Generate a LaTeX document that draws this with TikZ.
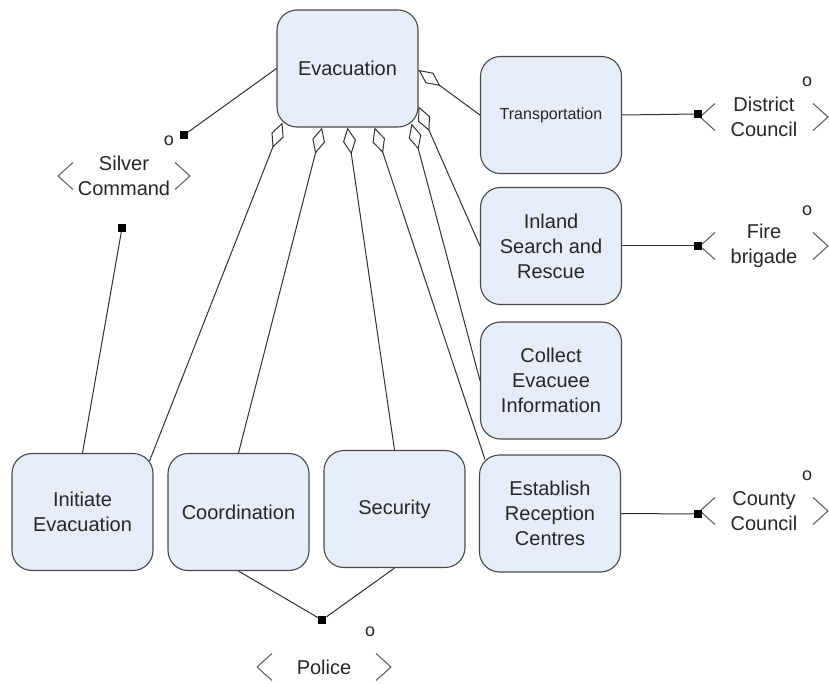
\documentclass[tikz,border=0pt]{standalone}
\usepackage{fontspec}
\setmainfont{Liberation Sans}
\usetikzlibrary{arrows.meta,calc,positioning}

\definecolor{taskfill}{HTML}{E6ECF8}
\definecolor{taskedge}{HTML}{484848}
\definecolor{linkcol}{HTML}{303030}

\tikzset{
  task/.style={draw=taskedge, fill=taskfill, line width=1.1pt, rounded corners=20pt,
    minimum width=141pt, minimum height=117pt, inner sep=0pt, align=center,
    text=black!85, font=\fontsize{20}{25}\selectfont},
  agent/.style={align=center, inner sep=0pt, text=black!85, font=\fontsize{20}{25}\selectfont},
  omark/.style={inner sep=0pt, text=black!85, font=\fontsize{18}{18}\selectfont},
  sq/.style={fill=black, minimum size=8pt, inner sep=0pt},
  link/.style={draw=linkcol, line width=1pt},
  part/.style={link, {Diamond[open, length=27pt, width=13pt, line width=1pt]}-},
  brk/.style={draw=black!65, line width=1pt}
}

% brackets and o round an agent: node name, half width
\newcommand{\agentbrackets}[2]{%
  \draw[brk] ($(#1)+(15-#2,-13.5)$) -- ($(#1)+(-#2,0)$) -- ($(#1)+(15-#2,13.5)$);
  \draw[brk] ($(#1)+(#2-15,-13.5)$) -- ($(#1)+(#2,0)$) -- ($(#1)+(#2-15,13.5)$);
  \node[omark] at ($(#1)+(#2-21,-35)$) {o};
}

\begin{document}
\begin{tikzpicture}[x=1pt, y=-1pt]
  \useasboundingbox (0,0) rectangle (829,684);

  % tasks
  \node[task] (evac) at (347.5,68.5) {Evacuation};
  \node[task, font=\fontsize{16}{20}\selectfont] (transp) at (551,115) {Transportation};
  \node[task] (inland) at (551,246) {Inland\\Search and\\Rescue};
  \node[task] (collect) at (551,380.5) {Collect\\Evacuee\\Information};
  \node[task] (establish) at (550,513.5) {Establish\\Reception\\Centres};
  \node[task] (init) at (82.5,512) {Initiate\\Evacuation};
  \node[task] (coord) at (238.5,512) {Coordination};
  \node[task] (secur) at (394.5,509) {Security};

  % agents
  \node[agent] (silver) at (124,176) {Silver\\Command};
  \node[agent] (district) at (764,117) {District\\Council};
  \node[agent] (fire) at (764,246) {Fire\\brigade};
  \node[agent] (county) at (764,511) {County\\Council};
  \node[agent] (police) at (324,667) {Police};
  \agentbrackets{silver}{66}
  \agentbrackets{district}{64}
  \agentbrackets{fire}{64}
  \agentbrackets{county}{64}
  \agentbrackets{police}{67}

  % squares
  \node[sq] (silverA) at (184,135) {};
  \node[sq] (silverB) at (122,228) {};
  \node[sq] (districtS) at (698,114) {};
  \node[sq] (fireS) at (698,246) {};
  \node[sq] (countyS) at (698,514) {};
  \node[sq] (policeS) at (322,620) {};

  % parts of evacuation
  \draw[part] ($(evac.east)+(0,1.5)$) -- (transp.west);
  \draw[part] ($(evac.east)+(0,38)$) -- (inland.west);
  \draw[part] ($(evac.south east)+(-7,-4)$) -- (collect.west);
  \draw[part] ($(evac.south)+(27,0)$) -- ($(establish.north west)+(6,5)$);
  \draw[part] (evac.south) -- (secur.north);
  \draw[part] ($(evac.south)+(-25.5,0)$) -- (coord.north);
  \draw[part] ($(evac.south west)+(6,-5)$) -- ($(init.north east)+(-4,8)$);

  % responsibilities
  \draw[link] (evac.west) -- (silverA);
  \draw[link] (silverB) -- (init.north);
  \draw[link] (transp.east) -- (districtS);
  \draw[link] (inland.east) -- (fireS);
  \draw[link] (establish.east) -- (countyS);
  \draw[link] (coord.south) -- (policeS) -- (secur.south);
\end{tikzpicture}
\end{document}
